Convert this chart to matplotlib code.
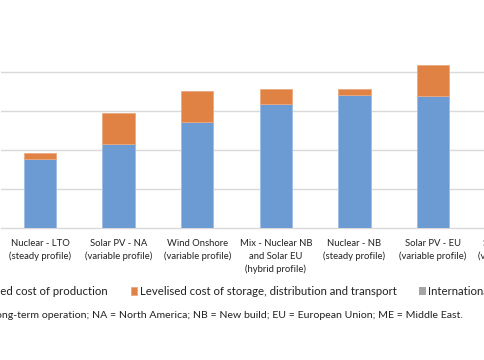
import matplotlib
matplotlib.use("Agg")
import matplotlib.pyplot as plt

# categories (last one is cut off at the right edge in the source)
categories = [
    "Nuclear - LTO\n(steady profile)",
    "Solar PV - NA\n(variable profile)",
    "Wind Onshore\n(variable profile)",
    "Mix - Nuclear NB\nand Solar EU\n(hybrid profile)",
    "Nuclear - NB\n(steady profile)",
    "Solar PV - EU\n(variable profile)",
    "Solar PV - ME\n(variable profile)",
]
production = [1.77, 2.17, 2.73, 3.19, 3.42, 3.40, 2.00]
storage = [0.17, 0.78, 0.78, 0.37, 0.16, 0.79, 0.40]
transport = [0, 0, 0, 0, 0, 0, 0.90]

series_names = [
    "Levelised cost of production",
    "Levelised cost of storage, distribution and transport",
    "International transport",
]
colors = ["#6B9BD2", "#DF8243", "#A5A5A5"]

W, H = 485, 360
fig = plt.figure(figsize=(W / 100, H / 100), dpi=100)
plt.rcParams["font.family"] = ["Lato", "DejaVu Sans"]

# plot area is wider than the picture (cropped source)
base_px = 228.3
step_px = 39.0
slot_px = 78.6
left_px = 40 - slot_px / 2
ax = fig.add_axes([left_px / W, 1 - base_px / H, len(categories) * slot_px / W, base_px / H])

x = list(range(len(categories)))
bottom2 = [p + s for p, s in zip(production, storage)]
b1 = ax.bar(x, production, width=0.41, color=colors[0], edgecolor="#9DBDE3", linewidth=0.6, zorder=3)
b2 = ax.bar(x, storage, width=0.41, bottom=production, color=colors[1], edgecolor="#EBAA80", linewidth=0.6, zorder=3)
b3 = ax.bar(x, transport, width=0.41, bottom=bottom2, color=colors[2], linewidth=0, zorder=3)

ax.set_xlim(-0.5, len(categories) - 0.5)
ax.set_ylim(0, base_px / step_px)
ax.set_yticks([1, 2, 3, 4])
ax.yaxis.grid(True, color="#D9D9D9", linewidth=1)
ax.tick_params(axis="y", left=False, labelleft=False)
ax.set_xticks(x)
ax.set_xticklabels(categories, fontsize=6.8, color="#222222", linespacing=1.45)
ax.tick_params(axis="x", length=0, pad=8)
for side in ["left", "right", "top"]:
    ax.spines[side].set_visible(False)
ax.spines["bottom"].set_color("#D9D9D9")
ax.spines["bottom"].set_linewidth(1)

fig.legend([b1, b2, b3], series_names, loc="center left",
           bbox_to_anchor=(-43 / W, 1 - 291.5 / H), ncol=3, frameon=False,
           fontsize=8.2, handlelength=0.6, handleheight=0.6, handletextpad=0.2,
           columnspacing=2.0, borderpad=0, borderaxespad=0, labelcolor="#222222")

fig.text(463 / W, 1 - 316 / H,
         "Note: LTO = long-term operation; NA = North America; NB = New build; "
         "EU = European Union; ME = Middle East.",
         ha="right", va="center", fontsize=7.55, color="#222222")

fig.savefig("out.png", dpi=100)
